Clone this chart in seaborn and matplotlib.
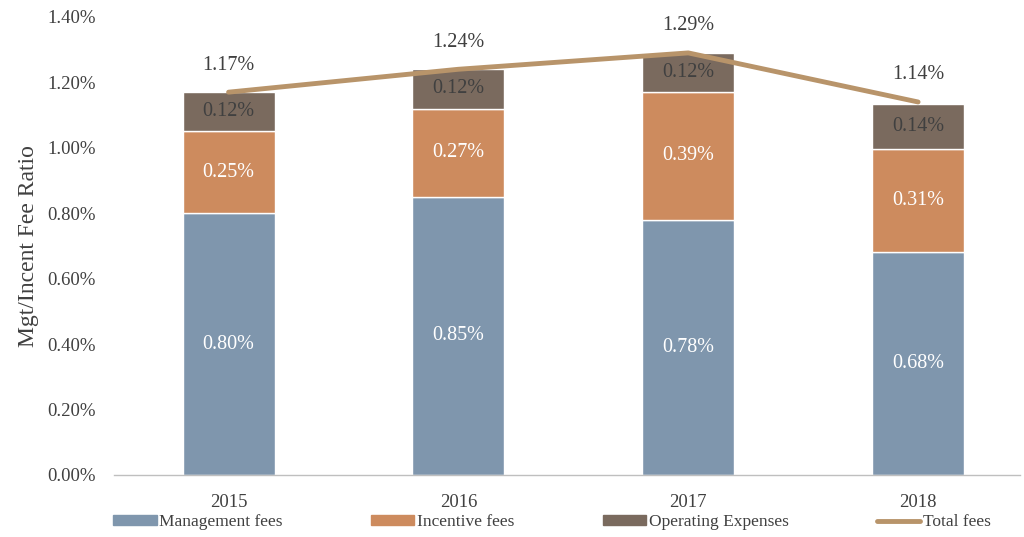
import matplotlib
matplotlib.use("Agg")
import matplotlib.pyplot as plt
import seaborn as sns
import pandas as pd
from matplotlib.patches import Patch
from matplotlib.lines import Line2D

years = ["2015", "2016", "2017", "2018"]
management = [0.80, 0.85, 0.78, 0.68]
incentive = [0.25, 0.27, 0.39, 0.315]
operating = [0.12, 0.12, 0.12, 0.14]
total = [1.17, 1.24, 1.29, 1.14]
mgmt_labels = ["0.80%", "0.85%", "0.78%", "0.68%"]
inc_labels = ["0.25%", "0.27%", "0.39%", "0.31%"]
op_labels = ["0.12%", "0.12%", "0.12%", "0.14%"]
total_labels = ["1.17%", "1.24%", "1.29%", "1.14%"]
yticks = [0.0, 0.2, 0.4, 0.6, 0.8, 1.0, 1.2, 1.4]

c_mgmt = "#7F96AD"
c_inc = "#CD8B5E"
c_op = "#7A6A5E"
c_tot = "#B8946A"
txt = "#404040"

sns.set_theme(style="white")
plt.rcParams["font.family"] = ["Liberation Serif", "DejaVu Serif"]

fig = plt.figure(figsize=(10.24, 5.37), dpi=100)
ax = fig.add_axes([0.111, 0.1155, 0.885, 0.853])

df = pd.DataFrame({"year": years, "mgmt": management, "inc": incentive, "op": operating, "total": total})
bottom_inc = [m for m in management]
bottom_op = [m + i for m, i in zip(management, incentive)]

sns.barplot(data=df, x="year", y="mgmt", color=c_mgmt, width=0.4, saturation=1, ax=ax, zorder=2)
sns.barplot(data=df, x="year", y="inc", color=c_inc, width=0.4, saturation=1, bottom=bottom_inc, ax=ax, zorder=2)
sns.barplot(data=df, x="year", y="op", color=c_op, width=0.4, saturation=1, bottom=bottom_op, ax=ax, zorder=2)
sns.lineplot(data=df, x="year", y="total", color=c_tot, linewidth=3.5, ax=ax, zorder=3)

fs = 14.5
for i in range(len(years)):
    ax.text(i, management[i] / 2, mgmt_labels[i], ha="center", va="center", color="white", fontsize=fs, zorder=4)
    ax.text(i, bottom_inc[i] + incentive[i] / 2, inc_labels[i], ha="center", va="center", color="white", fontsize=fs, zorder=4)
    ax.text(i, bottom_op[i] + operating[i] / 2, op_labels[i], ha="center", va="center", color=txt, fontsize=fs, zorder=4)
    ax.annotate(total_labels[i], (i, total[i]), xytext=(0, 27), textcoords="offset pixels",
                ha="center", va="center", color=txt, fontsize=fs, zorder=4)

ax.set_xlim(-0.5, 3.443)
ax.set_ylim(0, 1.4)
ax.set_yticks(yticks)
ax.set_yticklabels([f"{v:.2f}%" for v in yticks], fontsize=13.5, color=txt)
ax.tick_params(axis="x", labelsize=13.5, labelcolor=txt, length=0, pad=14)
ax.tick_params(axis="y", length=0, pad=13)
ax.set_xlabel("")
ax.set_ylabel("Mgt/Incent Fee Ratio", fontsize=17, color=txt, labelpad=6)
for s in ["top", "right", "left"]:
    ax.spines[s].set_visible(False)
ax.spines["bottom"].set_color("#BFBFBF")
ax.spines["bottom"].set_linewidth(1)

handles = [Patch(color=c_mgmt, label="Management fees"),
           Patch(color=c_inc, label="Incentive fees"),
           Patch(color=c_op, label="Operating Expenses"),
           Line2D([0], [0], color=c_tot, linewidth=3.5, label="Total fees")]
leg = fig.legend(handles=handles, loc="lower left", bbox_to_anchor=(0.104, 0.0, 0.87, 0.05), ncol=4,
                 mode="expand", frameon=False, fontsize=12.5, handlelength=2.5, handleheight=0.5,
                 handletextpad=0.15, borderaxespad=0)
for t in leg.get_texts():
    t.set_color(txt)

fig.savefig("out.png", dpi=100)
